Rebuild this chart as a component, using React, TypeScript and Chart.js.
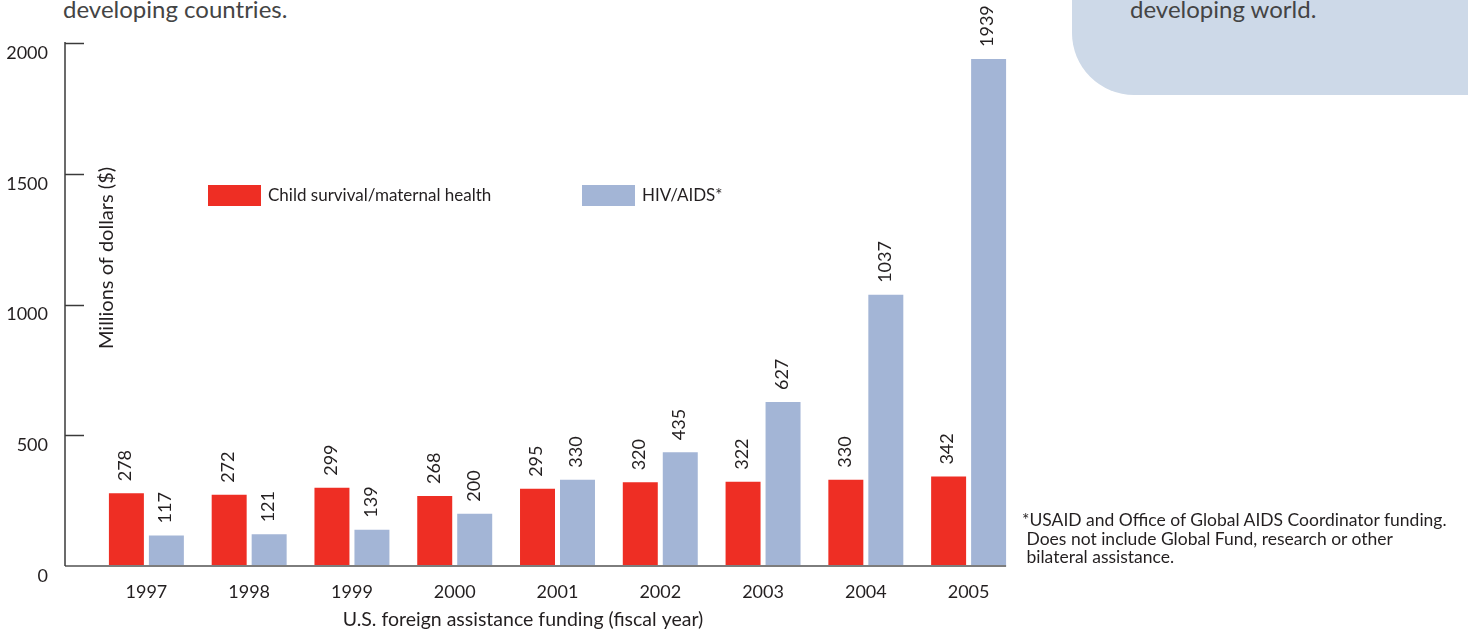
import { useEffect, useRef } from "react";
import { Chart, registerables } from "chart.js";

Chart.register(...registerables);

// Fiscal years and funding in millions of dollars
const years = ["1997", "1998", "1999", "2000", "2001", "2002", "2003", "2004", "2005"];
const childSurvival = [278, 272, 299, 268, 295, 320, 322, 330, 342];
const hivAids = [117, 121, 139, 200, 330, 435, 627, 1037, 1939];
const yTickValues = [0, 500, 1000, 1500, 2000];

const seriesNames = ["Child survival/maternal health", "HIV/AIDS*"];
const seriesColors = ["#ee2e24", "#a3b5d6"];

const FONT = "Lato, 'Open Sans', sans-serif";
const INK = "#231f20";

// Rotated value labels above each bar
const valueLabels = {
  id: "valueLabels",
  afterDatasetsDraw(chart: any) {
    const ctx = chart.ctx;
    ctx.save();
    ctx.font = `18px ${FONT}`;
    ctx.fillStyle = INK;
    ctx.textAlign = "left";
    ctx.textBaseline = "middle";
    chart.data.datasets.forEach((ds: any, di: number) => {
      const meta = chart.getDatasetMeta(di);
      meta.data.forEach((bar: any, i: number) => {
        ctx.save();
        ctx.translate(bar.x - 1, bar.y - 12);
        ctx.rotate(-Math.PI / 2);
        ctx.fillText(String(ds.data[i]), 0, 0);
        ctx.restore();
      });
    });
    ctx.restore();
  },
};

// Axis lines, inward ticks, axis titles and the legend
const frame = {
  id: "frame",
  afterDatasetsDraw(chart: any) {
    const ctx = chart.ctx;
    const area = chart.chartArea;
    const y = chart.scales.y;
    const axisX = area.left - 30;
    const base = y.getPixelForValue(0);
    const top = y.getPixelForValue(2000);

    ctx.save();
    // baseline
    const lastMeta = chart.getDatasetMeta(chart.data.datasets.length - 1);
    const lastBar: any = lastMeta.data[lastMeta.data.length - 1];
    ctx.strokeStyle = "#7d7d7d";
    ctx.lineWidth = 2;
    ctx.beginPath();
    ctx.moveTo(axisX, base);
    ctx.lineTo(lastBar.x + lastBar.width / 2, base);
    ctx.stroke();

    // vertical axis and ticks
    ctx.strokeStyle = "#3a3a3a";
    ctx.lineWidth = 1.5;
    ctx.beginPath();
    ctx.moveTo(axisX, top - 1);
    ctx.lineTo(axisX, base);
    ctx.stroke();
    yTickValues.forEach((v) => {
      if (v === 0) return;
      const py = Math.round(y.getPixelForValue(v)) + 0.5;
      ctx.beginPath();
      ctx.moveTo(axisX, py);
      ctx.lineTo(axisX + 19, py);
      ctx.stroke();
    });

    // axis titles
    ctx.fillStyle = INK;
    ctx.font = `19.5px ${FONT}`;
    ctx.textAlign = "center";
    ctx.textBaseline = "middle";
    ctx.fillText("U.S. foreign assistance funding (fiscal year)", 523, 620);
    ctx.save();
    ctx.font = `20px ${FONT}`;
    ctx.translate(107, 258);
    ctx.rotate(-Math.PI / 2);
    ctx.fillText("Millions of dollars ($)", 0, 0);
    ctx.restore();

    // legend
    const legendX = [208, 582];
    ctx.font = `17px ${FONT}`;
    ctx.textAlign = "left";
    chart.data.datasets.forEach((ds: any, i: number) => {
      ctx.fillStyle = ds.backgroundColor;
      ctx.fillRect(legendX[i], 185, 53, 21);
      ctx.fillStyle = INK;
      ctx.fillText(ds.label, legendX[i] + 60, 196);
    });
    ctx.restore();
  },
};

export default function App() {
  const canvasRef = useRef<HTMLCanvasElement | null>(null);

  useEffect(() => {
    if (!canvasRef.current) return;
    const chart = new Chart(canvasRef.current, {
      type: "bar",
      data: {
        labels: years,
        datasets: [
          {
            label: seriesNames[0],
            data: childSurvival,
            backgroundColor: seriesColors[0],
            categoryPercentage: 0.778,
            barPercentage: 0.875,
          },
          {
            label: seriesNames[1],
            data: hivAids,
            backgroundColor: seriesColors[1],
            categoryPercentage: 0.778,
            barPercentage: 0.875,
          },
        ],
      },
      options: {
        responsive: false,
        animation: false,
        events: [],
        layout: { padding: { top: 43, right: 448, bottom: 0, left: 0 } },
        plugins: {
          legend: { display: false },
          tooltip: { enabled: false },
          title: { display: false },
        },
        scales: {
          x: {
            type: "category",
            grid: { display: false, drawTicks: false },
            border: { display: false },
            ticks: { color: INK, font: { family: FONT, size: 18 }, padding: 15 },
            afterFit: (scale: any) => {
              scale.height = 67;
              scale.paddingLeft = 0;
              scale.paddingRight = 0;
            },
          },
          y: {
            min: 0,
            max: 2000,
            grid: { display: false, drawTicks: false },
            border: { display: false },
            ticks: {
              stepSize: 500,
              color: INK,
              font: { family: FONT, size: 18 },
              padding: 47,
              labelOffset: 10,
              callback: (v: any) => String(v),
            },
            afterFit: (scale: any) => {
              scale.width = 95;
              scale.paddingTop = 0;
              scale.paddingBottom = 0;
            },
          },
        },
      },
      plugins: [valueLabels, frame],
    });
    return () => chart.destroy();
  }, []);

  return (
    <div
      style={{
        position: "fixed",
        left: 0,
        top: 0,
        width: 1468,
        height: 633,
        overflow: "hidden",
        background: "#ffffff",
        fontFamily: FONT,
      }}
    >
      <div
        style={{
          position: "absolute",
          left: 1072,
          top: 0,
          width: 396,
          height: 95,
          background: "#cdd9e8",
          borderBottomLeftRadius: 62,
        }}
      />
      <div
        style={{
          position: "absolute",
          left: 1130,
          top: -3,
          fontSize: 24,
          lineHeight: "24px",
          color: "#444",
          whiteSpace: "nowrap",
        }}
      >
        developing world.
      </div>
      <div
        style={{
          position: "absolute",
          left: 63,
          top: -3,
          fontSize: 24,
          lineHeight: "24px",
          color: "#444",
          whiteSpace: "nowrap",
        }}
      >
        developing countries.
      </div>
      <canvas
        ref={canvasRef}
        width={1468}
        height={633}
        style={{ position: "absolute", left: 0, top: 0, display: "block" }}
      />
      <div
        style={{
          position: "absolute",
          left: 1022,
          top: 511,
          fontSize: 17.5,
          lineHeight: "18.5px",
          color: INK,
          whiteSpace: "pre",
        }}
      >
        {"*USAID and Office of Global AIDS Coordinator funding.\n Does not include Global Fund, research or other\n bilateral assistance."}
      </div>
    </div>
  );
}
